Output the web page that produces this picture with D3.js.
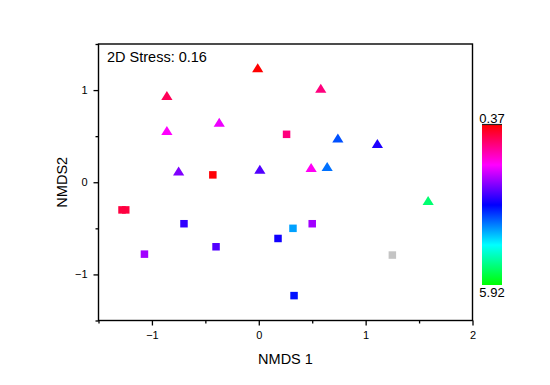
<!DOCTYPE html>
<html>
<head>
<meta charset="utf-8">
<script src="https://cdn.jsdelivr.net/npm/d3@7"></script>
<style>
  html, body { margin: 0; padding: 0; background: #fff; }
  svg { display: block; font-family: "Liberation Sans", Arial, sans-serif; }
</style>
</head>
<body>
<svg id="chart" width="550" height="385"></svg>
<script>
// ---- data ----
const triX   = [-0.01, -0.86, -0.86, -0.37, -0.75, 0.01, 0.58, 0.74, 1.11, 0.49, 0.64, 1.585];
const triY   = [ 1.24,  0.94,  0.56,  0.65,  0.12, 0.14, 1.02, 0.48, 0.42, 0.16, 0.17, -0.20];
const triVal = [ 0.37,  0.85,  1.75,  1.85,  2.45, 2.70, 1.05, 3.58, 2.98, 1.70, 3.76, 5.31];

const sqX    = [0.26, -0.43, -1.28, -1.245, -0.70, -1.07, -0.40, 0.18, 0.32, 0.50, 1.25, 0.33];
const sqY    = [0.52,  0.08, -0.30, -0.30,  -0.45, -0.78, -0.70, -0.61, -0.50, -0.45, -0.79, -1.23];
const sqVal  = [1.05,  0.40,  0.72,  0.72,   2.88,  2.27,  2.70, 3.05, 4.02, 2.27, null, 3.23];

const xMajor = [-1, 0, 1, 2];
const xMinor = [-1.5, -0.5, 0.5, 1.5];
const yMajor = [-1, 0, 1];
const yMinor = [-1.5, -0.5, 0.5, 1.5];

const colorMin = 0.37, colorMax = 5.92;
const colorStops = ["#ff0000", "#ff00ff", "#0000ff", "#00ffff", "#00ff00"];
const missingColor = "#c4c4c4";
const stressLabel = "2D Stress: 0.16";
const xTitle = "NMDS 1", yTitle = "NMDS2";

// ---- layout ----
const svg = d3.select("#chart");
const L = 98.5, R = 472.5, T = 44, B = 320.5;
const x = d3.scaleLinear().domain([-1.5, 2]).range([L, R]);
const y = d3.scaleLinear().domain([-1.5, 1.5]).range([B, T]);
const stopDomain = colorStops.map((c, i) => colorMin + i * (colorMax - colorMin) / (colorStops.length - 1));
const color = d3.scaleLinear().domain(stopDomain).range(colorStops).interpolate(d3.interpolateRgb);
const fillOf = v => (v == null ? missingColor : color(v));

// axes
const axisStyle = g => {
  g.select(".domain").remove();
  g.selectAll("line").attr("stroke", "#000").attr("stroke-width", 1.3);
  g.selectAll("text").attr("font-size", 11).attr("fill", "#000")
    .attr("font-family", "Liberation Sans, Arial, sans-serif");
};
svg.append("g").attr("transform", `translate(0,${B})`)
  .call(d3.axisBottom(x).tickValues(xMajor).tickSize(5).tickPadding(6).tickFormat(d3.format("d")))
  .call(axisStyle);
svg.append("g").attr("transform", `translate(0,${B})`)
  .call(d3.axisBottom(x).tickValues(xMinor).tickSize(3).tickFormat(""))
  .call(axisStyle);
svg.append("g").attr("transform", `translate(${L},0)`)
  .call(d3.axisLeft(y).tickValues(yMajor).tickSize(5).tickPadding(6).tickFormat(d3.format("d")))
  .call(axisStyle);
svg.append("g").attr("transform", `translate(${L},0)`)
  .call(d3.axisLeft(y).tickValues(yMinor).tickSize(3).tickFormat(""))
  .call(axisStyle);

// frame
svg.append("rect").attr("x", L).attr("y", T).attr("width", R - L).attr("height", B - T)
  .attr("fill", "none").attr("stroke", "#000").attr("stroke-width", 1.4);

// titles
svg.append("text").attr("x", (L + R) / 2).attr("y", 364).attr("text-anchor", "middle")
  .attr("font-size", 14.5).text(xTitle);
svg.append("text").attr("transform", `translate(67,${(T + B) / 2}) rotate(-90)`)
  .attr("text-anchor", "middle").attr("font-size", 14.5).text(yTitle);
svg.append("text").attr("x", 107).attr("y", 61.5).attr("font-size", 14.5).text(stressLabel);

// markers
const squares = sqX.map((d, i) => ({ x: d, y: sqY[i], v: sqVal[i] }));
const triangles = triX.map((d, i) => ({ x: d, y: triY[i], v: triVal[i] }));
const sq = 7.5;
svg.append("g").selectAll("rect").data(squares).join("rect")
  .attr("x", d => x(d.x) - sq / 2).attr("y", d => y(d.y) - sq / 2)
  .attr("width", sq).attr("height", sq).attr("fill", d => fillOf(d.v));
const triPath = "M0,-4.6L5.6,4.4L-5.6,4.4Z";
svg.append("g").selectAll("path").data(triangles).join("path")
  .attr("d", triPath).attr("transform", d => `translate(${x(d.x)},${y(d.y)})`)
  .attr("fill", d => fillOf(d.v));

// colour bar
const cbX = 482, cbW = 20, cbT = 125, cbB = 285;
const grad = svg.append("defs").append("linearGradient").attr("id", "cb")
  .attr("x1", 0).attr("y1", 0).attr("x2", 0).attr("y2", 1);
colorStops.forEach((c, i) => grad.append("stop")
  .attr("offset", i / (colorStops.length - 1)).attr("stop-color", c));
svg.append("rect").attr("x", cbX).attr("y", cbT).attr("width", cbW).attr("height", cbB - cbT)
  .attr("fill", "url(#cb)");
svg.append("line").attr("x1", cbX).attr("x2", cbX + cbW).attr("y1", cbT - 0.5).attr("y2", cbT - 0.5)
  .attr("stroke", "#222").attr("stroke-width", 1.2);
svg.append("text").attr("x", cbX + cbW / 2).attr("y", 123).attr("text-anchor", "middle")
  .attr("font-size", 13).text(d3.format(".2f")(colorMin));
svg.append("text").attr("x", cbX + cbW / 2).attr("y", 297).attr("text-anchor", "middle")
  .attr("font-size", 13).text(d3.format(".2f")(colorMax));
</script>
</body>
</html>
